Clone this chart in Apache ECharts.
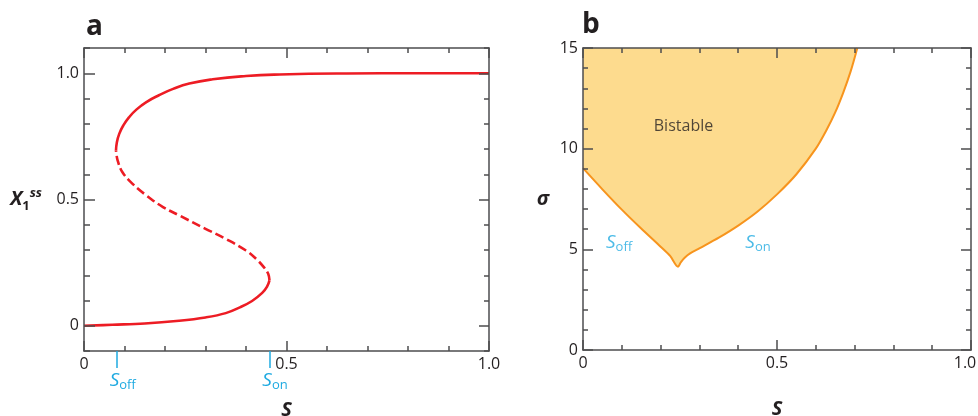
<!DOCTYPE html>
<html><head><meta charset="utf-8">
<script src="https://cdn.jsdelivr.net/npm/echarts@6/dist/echarts.min.js"></script>
<style>html,body{margin:0;padding:0;background:#fff}#c{width:978px;height:416px}</style>
</head><body><div id="c"></div>
<script>
// ---------- Panel a: steady state X1ss versus S ----------
const lowerS = [0, 0.07, 0.15, 0.235, 0.30, 0.35, 0.385, 0.415, 0.44, 0.452, 0.458];
const lowerX = [0, 0.004, 0.009, 0.02, 0.033, 0.05, 0.073, 0.098, 0.13, 0.155, 0.18];
const midS = [0.458, 0.455, 0.445, 0.425, 0.40, 0.35, 0.30, 0.235, 0.195, 0.155, 0.12, 0.095, 0.083, 0.079];
const midX = [0.18, 0.205, 0.23, 0.265, 0.298, 0.344, 0.384, 0.437, 0.47, 0.515, 0.562, 0.608, 0.655, 0.694];
const upperS = [0.079, 0.081, 0.087, 0.097, 0.111, 0.13, 0.155, 0.185, 0.22, 0.26, 0.318, 0.40, 0.483, 0.648, 0.82, 1.0];
const upperX = [0.694, 0.725, 0.76, 0.793, 0.825, 0.857, 0.887, 0.913, 0.938, 0.959, 0.976, 0.989, 0.995, 0.999, 1.0, 1.0];
const S_OFF = 0.082, S_ON = 0.458;
const aXTicks = [0, 0.5, 1];
const aXTickLabels = ['0', '0.5', '1.0'];
const aYTicks = [0, 0.5, 1];
const aYTickLabels = ['0', '0.5', '1.0'];

// ---------- Panel b: bistable region in (S, sigma) ----------
const bS = [0, 0.05, 0.10, 0.15, 0.20, 0.225, 0.245, 0.252, 0.262, 0.276, 0.301, 0.35, 0.40, 0.45, 0.50, 0.55, 0.60, 0.628, 0.65, 0.671, 0.69, 0.707];
const bSigma = [9.03, 7.98, 6.97, 6.03, 5.13, 4.66, 4.14, 4.35, 4.58, 4.8, 5.06, 5.58, 6.18, 6.88, 7.73, 8.73, 10.0, 10.94, 11.8, 12.8, 13.85, 15.0];
const bXTicks = [0, 0.5, 1];
const bXTickLabels = ['0', '0.5', '{r|1.0}'];
const bYTicks = [0, 5, 10, 15];
const bYTickLabels = ['0', '5', '10', '15'];
const bLabelTexts = ['Bistable', 'Soff', 'Son'];
const bLabelS = [0.259, 0.093, 0.451];
const bLabelSigma = [11.09, 5.32, 5.32];

const FONT = '"Open Sans", "Noto Sans", sans-serif';
const TXT = '#231F20';
const AX = '#4D4D4F';
const RED = '#ED1C24';
const BLUE = '#1FAAE1';
const ORANGE = '#F7941D';
const FILL = '#FDDB8E';

function zip(a, b) { return a.map((v, i) => [v, b[i]]); }
function tickFmt(ticks, labels) {
  return function (v) {
    for (let i = 0; i < ticks.length; i++) if (Math.abs(v - ticks[i]) < 1e-9) return labels[i];
    return '';
  };
}
const lineSty = { color: AX, width: 1.5 };
const labelSty = { color: TXT, fontFamily: FONT, fontSize: 16,
  rich: { r: { color: TXT, fontFamily: FONT, fontSize: 16, padding: [0, 12, 0, 0] } } };
const nameSty = { fontFamily: FONT, fontWeight: 'bold', fontStyle: 'italic', fontSize: 20, color: TXT };
const subRich = {
  s: { fontFamily: FONT, fontStyle: 'italic', fontSize: 19, color: BLUE, lineHeight: 22, verticalAlign: 'middle' },
  sub: { fontFamily: FONT, fontSize: 13, color: BLUE, lineHeight: 12, verticalAlign: 'bottom' },
  s2: { fontFamily: FONT, fontStyle: 'italic', fontSize: 19, color: BLUE, lineHeight: 22, verticalAlign: 'middle', padding: [0, 0, 0, 11] }
};

function boxAxis(grid, pos, min, max, interval, minor, majorLen, withLabels, ticks, labels, extra) {
  const a = {
    gridIndex: grid, type: 'value', position: pos, min: min, max: max, z: 10,
    axisLine: { show: true, onZero: false, lineStyle: lineSty },
    axisTick: { show: true, inside: true, length: majorLen, lineStyle: lineSty },
    splitLine: { show: false }, minorSplitLine: { show: false },
    axisLabel: withLabels ? Object.assign({ show: true, margin: 5, formatter: tickFmt(ticks, labels) }, labelSty) : { show: false }
  };
  if (interval != null) a.interval = interval;
  if (minor) a.minorTick = { show: true, splitNumber: minor, length: 5, lineStyle: lineSty };
  return Object.assign(a, extra || {});
}
function tickOnlyAxis(grid, pos, min, max, values, len) {
  return {
    gridIndex: grid, type: 'value', position: pos, min: min, max: max, z: 10,
    axisLine: { show: false, onZero: false }, splitLine: { show: false }, axisLabel: { show: false },
    axisTick: { show: true, inside: true, length: len, customValues: values, lineStyle: lineSty }
  };
}

const option = {
  animation: false,
  backgroundColor: '#fff',
  grid: [
    { left: 84, top: 48, width: 405, height: 303, outerBoundsMode: 'none' },
    { left: 583, top: 48, width: 388, height: 302, outerBoundsMode: 'none' }
  ],
  xAxis: [
    boxAxis(0, 'bottom', 0, 1, 0.5, 5, 10, true, aXTicks, aXTickLabels, {
      name: 'S', nameLocation: 'middle', nameGap: 49, nameTextStyle: nameSty }),
    boxAxis(0, 'top', 0, 1, 0.5, 5, 10, false),
    {
      gridIndex: 0, type: 'value', position: 'bottom', min: 0, max: 1, z: 10,
      axisLine: { show: false, onZero: false },
      axisTick: { show: true, inside: false, length: 17, customValues: [S_OFF, S_ON], lineStyle: { color: BLUE, width: 1.5 } },
      splitLine: { show: false },
      axisLabel: {
        show: true, customValues: [S_OFF, S_ON], margin: 19,
        formatter: function (v) { return Math.abs(v - S_OFF) < 1e-9 ? '{s2|S}{sub|off}' : '{s2|S}{sub|on}'; },
        rich: subRich
      }
    },
    boxAxis(1, 'bottom', 0, 1, 0.5, 5, 10, true, bXTicks, bXTickLabels, {
      name: 'S', nameLocation: 'middle', nameGap: 49, nameTextStyle: nameSty }),
    boxAxis(1, 'top', 0, 1, 0.5, 5, 10, false)
  ],
  yAxis: [
    boxAxis(0, 'left', -0.1, 1.1, 0.1, 0, 6, false, null, null, {
      axisLabel: Object.assign({ show: true, margin: 5, customValues: aYTicks, formatter: tickFmt(aYTicks, aYTickLabels) }, labelSty),
      name: '{x|X}{sub|1}{sup|ss}', nameLocation: 'middle', nameRotate: 0, nameGap: 42,
      nameTextStyle: {
        rich: {
          x: { fontFamily: FONT, fontWeight: 'bold', fontStyle: 'italic', fontSize: 20, color: TXT, lineHeight: 26, verticalAlign: 'middle' },
          sub: { fontFamily: FONT, fontWeight: 'bold', fontSize: 13, color: TXT, lineHeight: 12, verticalAlign: 'bottom' },
          sup: { fontFamily: FONT, fontWeight: 'bold', fontStyle: 'italic', fontSize: 13, color: TXT, lineHeight: 12, verticalAlign: 'top' }
        }
      }
    }),
    tickOnlyAxis(0, 'left', -0.1, 1.1, aYTicks, 11),
    boxAxis(0, 'right', -0.1, 1.1, 0.1, 0, 5, false),
    tickOnlyAxis(0, 'right', -0.1, 1.1, aYTicks, 10),
    boxAxis(1, 'left', 0, 15, 5, 5, 10, true, bYTicks, bYTickLabels, {
      name: 'σ', nameLocation: 'middle', nameRotate: 0, nameGap: 34, nameTextStyle: nameSty }),
    boxAxis(1, 'right', 0, 15, 5, 5, 10, false)
  ],
  series: [
    { type: 'line', name: 'lower', xAxisIndex: 0, yAxisIndex: 0, data: zip(lowerS, lowerX), showSymbol: false, smooth: 0.4,
      lineStyle: { color: RED, width: 2.6 }, z: 3 },
    { type: 'line', name: 'middle', xAxisIndex: 0, yAxisIndex: 0, data: zip(midS, midX), showSymbol: false, smooth: 0.4,
      lineStyle: { color: RED, width: 2.6, type: [9, 4] }, z: 3 },
    { type: 'line', name: 'upper', xAxisIndex: 0, yAxisIndex: 0, data: zip(upperS, upperX), showSymbol: false, smooth: 0.5,
      lineStyle: { color: RED, width: 2.6 }, z: 3 },
    { type: 'line', name: 'boundary', xAxisIndex: 3, yAxisIndex: 4, data: zip(bS, bSigma), showSymbol: false, smooth: 0.3,
      lineStyle: { color: ORANGE, width: 2 }, areaStyle: { origin: 'end', color: FILL, opacity: 1 }, z: 3 },
    { type: 'scatter', xAxisIndex: 3, yAxisIndex: 4, symbolSize: 0.001, z: 5,
      data: bLabelTexts.map((t, i) => ({ value: [bLabelS[i], bLabelSigma[i]], name: t })),
      label: {
        show: true, position: 'inside',
        formatter: function (p) {
          if (p.name === 'Soff') return '{s|S}{sub|off}';
          if (p.name === 'Son') return '{s|S}{sub|on}';
          return '{t|' + p.name + '}';
        },
        rich: Object.assign({ t: { fontFamily: FONT, fontSize: 16, color: TXT } }, subRich)
      }
    }
  ],
  graphic: [
    { type: 'text', left: 86, top: 13, style: { text: 'a', font: 'bold 28px "Open Sans"', fill: TXT } },
    { type: 'text', left: 582, top: 11, style: { text: 'b', font: 'bold 28px "Open Sans"', fill: TXT } }
  ]
};
const chart = echarts.init(document.getElementById('c'));
chart.setOption(option);
</script>
</body></html>
